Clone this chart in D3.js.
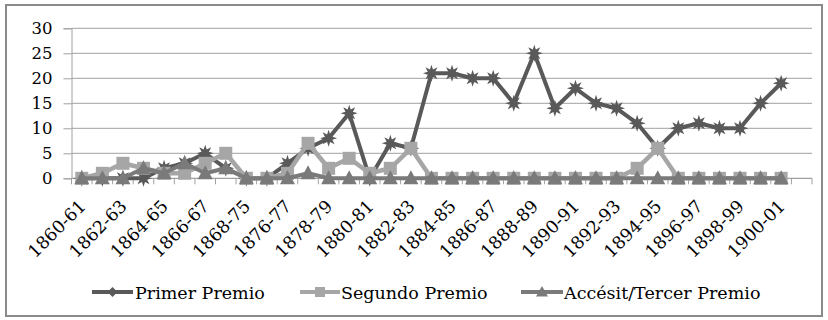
<!DOCTYPE html>
<html>
<head>
<meta charset="utf-8">
<script src="https://cdn.jsdelivr.net/npm/d3@7/dist/d3.min.js"></script>
<style>
  html, body { margin: 0; padding: 0; background: #fff; }
  svg { display: block; }
  text { font-family: "DejaVu Serif", "Liberation Serif", serif; fill: #000; }
</style>
</head>
<body>
<svg id="chart" width="828" height="320"></svg>
<script>
// ---- data ----
const categories = ["1860-61","1861-62","1862-63","1863-64","1864-65","1865-66","1866-67","1867-68",
  "1868-75","1875-76","1876-77","1877-78","1878-79","1879-80","1880-81","1881-82","1882-83","1883-84",
  "1884-85","1885-86","1886-87","1887-88","1888-89","1889-90","1890-91","1891-92","1892-93","1893-94",
  "1894-95","1895-96","1896-97","1897-98","1898-99","1899-00","1900-01",""];
const primerPremio  = [0,0,0,0,2,3,5,2,0,0,3,6,8,13,0,7,6,21,21,20,20,15,25,14,18,15,14,11,6,10,11,10,10,15,19];
const segundoPremio = [0,1,3,2,1,1,3,5,0,0,1,7,2,4,1,2,6,0,0,0,0,0,0,0,0,0,0,2,6,0,0,0,0,0,0];
const accesit       = [0,0,0,2,1,3,1,2,0,0,0,1,0,0,0,0,0,0,0,0,0,0,0,0,0,0,0,0,0,0,0,0,0,0,0];
const yTicks = [0,5,10,15,20,25,30];
const seriesNames = ["Primer Premio","Segundo Premio","Accésit/Tercer Premio"];

const series = [
  {name: seriesNames[0], values: primerPremio,  color: "#595959", marker: "star",     width: 4},
  {name: seriesNames[1], values: segundoPremio, color: "#a6a6a6", marker: "square",   width: 4.5},
  {name: seriesNames[2], values: accesit,       color: "#7a7a7a", marker: "triangle", width: 4}
];

const svg = d3.select("#chart");
svg.append("rect").attr("x",0).attr("y",0).attr("width",828).attr("height",320).attr("fill","#fff");
svg.append("rect").attr("x",6).attr("y",5).attr("width",816).attr("height",311)
   .attr("fill","none").attr("stroke","#8a8a8a").attr("stroke-width",2);

const pLeft = 71.5, pRight = 812, pTop = 28.3, pBottom = 178.3;
const x = d3.scaleBand().domain(categories).range([pLeft, pRight]).padding(0);
const y = d3.scaleLinear().domain([0,30]).range([pBottom, pTop]);
const cx = i => x(categories[i]) + x.bandwidth()/2;

// gridlines
svg.append("g").selectAll("line").data(yTicks.filter(d => d > 0)).join("line")
  .attr("x1", pLeft).attr("x2", pRight).attr("y1", d => y(d)).attr("y2", d => y(d))
  .attr("stroke","#b3b3b3").attr("stroke-width",1.2);

// y axis
const yAxis = svg.append("g").attr("transform",`translate(${pLeft},0)`)
  .call(d3.axisLeft(y).tickValues(yTicks).tickSize(8).tickPadding(11));
yAxis.select(".domain").attr("stroke","#a0a0a0");
yAxis.selectAll(".tick line").attr("stroke","#a0a0a0");
yAxis.selectAll("text").attr("font-size",16.5).attr("font-family",'"DejaVu Serif", serif').attr("fill","#000");

// x axis (ticks at band boundaries)
const xg = svg.append("g").attr("transform",`translate(0,${pBottom})`);
xg.append("line").attr("x1",pLeft).attr("x2",pRight).attr("y1",0).attr("y2",0)
  .attr("stroke","#a0a0a0").attr("stroke-width",1.2);
const bounds = categories.map(c => x(c)).concat([pRight]);
xg.selectAll("line.tk").data(bounds).join("line").attr("class","tk")
  .attr("x1", d => d).attr("x2", d => d).attr("y1",0).attr("y2",6)
  .attr("stroke","#a0a0a0");
xg.selectAll("text").data(categories.filter((c,i) => i % 2 === 0 && c !== "")).join("text")
  .attr("text-anchor","end")
  .attr("font-size",17.5)
  .attr("transform", d => `translate(${x(d) + x.bandwidth()/2 + 5},${29}) rotate(-45)`)
  .text(d => d);

// markers
function markerPath(type) {
  if (type === "square") return "M-6.5,-6.5H6.5V6.5H-6.5Z";
  if (type === "triangle") return "M0,-8L7.5,6L-7.5,6Z";
  const pts = [];
  for (let k = 0; k < 16; k++) {
    const r = k % 2 === 0 ? 8.5 : 4;
    const a = -Math.PI/2 + k * Math.PI/8;
    pts.push([r*Math.cos(a), r*Math.sin(a)]);
  }
  return "M" + pts.map(p => p.join(",")).join("L") + "Z";
}

const line = d3.line().x((d,i) => cx(i)).y(d => y(d));
series.forEach(s => {
  const g = svg.append("g");
  g.append("path").datum(s.values).attr("d", line)
    .attr("fill","none").attr("stroke",s.color).attr("stroke-width",s.width).attr("stroke-linejoin","round");
  g.selectAll("path.m").data(s.values).join("path").attr("class","m")
    .attr("d", markerPath(s.marker))
    .attr("transform",(d,i) => `translate(${cx(i)},${y(d)})`)
    .attr("fill", s.color);
});

// legend
const legendItems = [
  {s: series[0], x0: 92, x1: 133, tx: 135},
  {s: series[1], x0: 300, x1: 340, tx: 341},
  {s: series[2], x0: 521, x1: 563, tx: 564}
];
const ly = 292;
const lg = svg.append("g");
legendItems.forEach(it => {
  lg.append("line").attr("x1",it.x0).attr("x2",it.x1).attr("y1",ly).attr("y2",ly)
    .attr("stroke",it.s.color).attr("stroke-width",4);
  const mx = (it.x0 + it.x1)/2;
  let d;
  if (it.s.marker === "star") d = "M0,-5L5,0L0,5L-5,0Z";
  else if (it.s.marker === "square") d = "M-5,-5H5V5H-5Z";
  else d = "M0,-6L6,4.5L-6,4.5Z";
  lg.append("path").attr("d",d).attr("transform",`translate(${mx},${ly})`).attr("fill",it.s.color);
  lg.append("text").attr("x",it.tx).attr("y",298.5).attr("font-size",17.5).text(it.s.name);
});
</script>
</body>
</html>
